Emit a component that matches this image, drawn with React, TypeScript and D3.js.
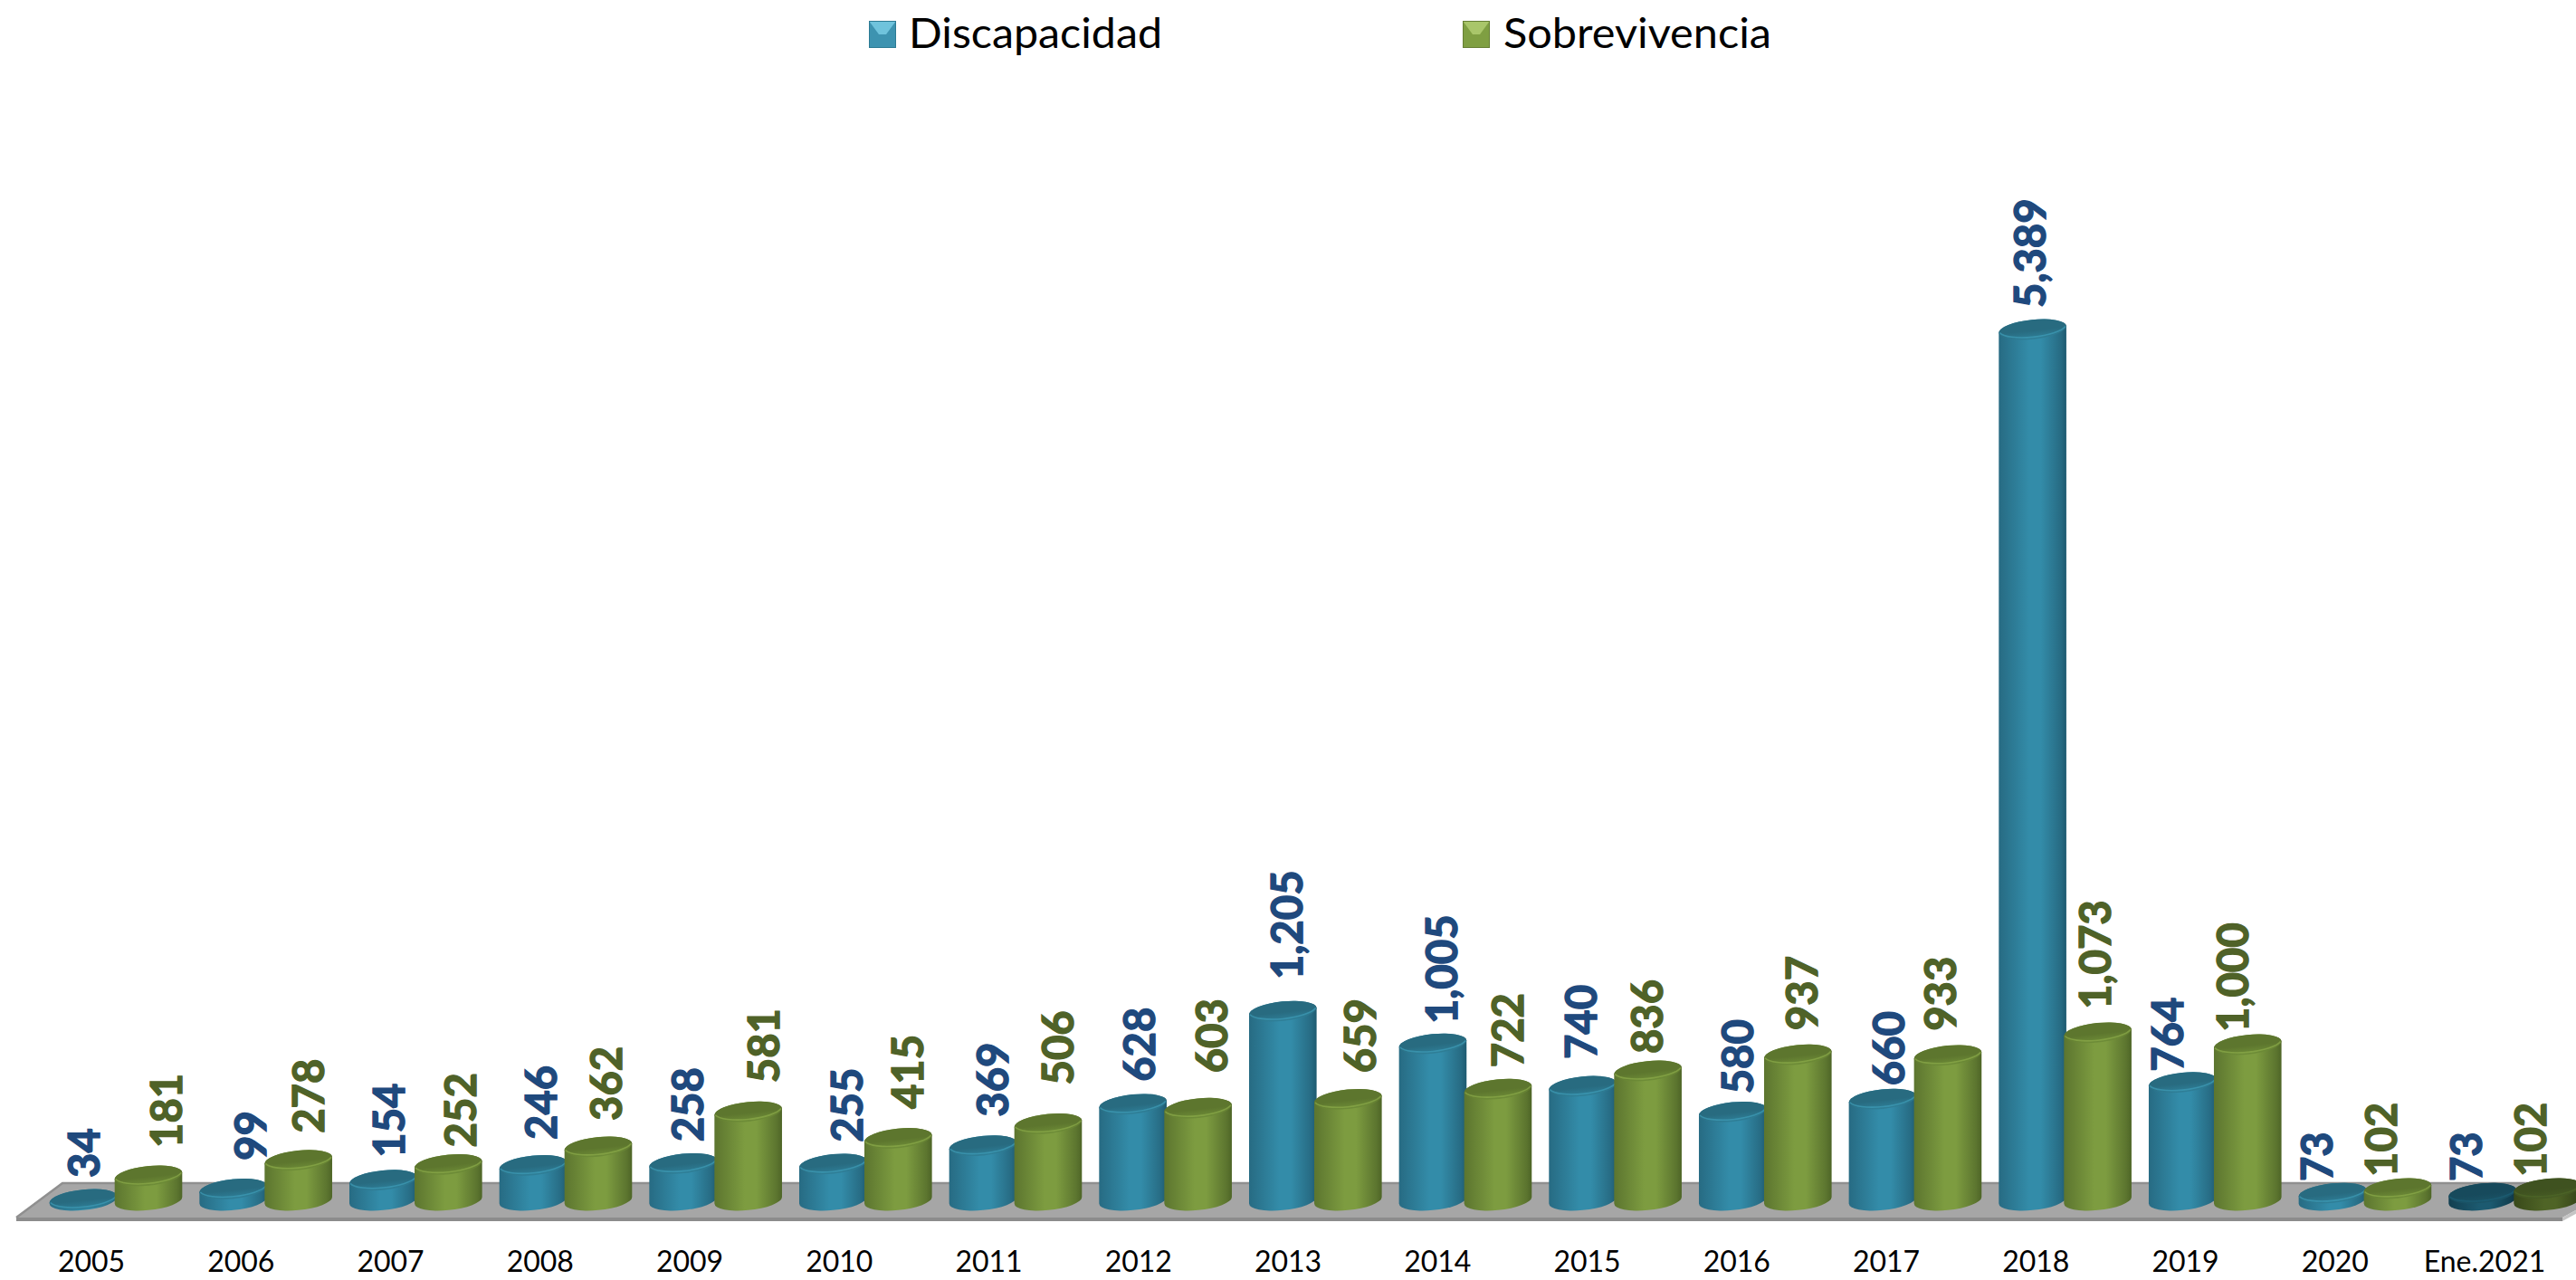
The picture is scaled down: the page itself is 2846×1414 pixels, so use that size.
import React from "react";
import * as d3 from "d3";

const categories = ["2005","2006","2007","2008","2009","2010","2011","2012","2013","2014","2015","2016","2017","2018","2019","2020","Ene.2021"];
const discapacidad = [34,99,154,246,258,255,369,628,1205,1005,740,580,660,5389,764,73,73];
const sobrevivencia = [181,278,252,362,581,415,506,603,659,722,836,937,933,1073,1000,102,102];

// hand placement of the value labels relative to their cylinders
const blueLabelDx = [0,19,6,9,5,15,11,7,4,10,-2,5,7,-3,-17,-17,-18];
const greenLabelDx = [19,11,13,9,17,10,11,15,13,11,-1,4,-8,-3,-17,-18,-19];
const blueLabelGap = [26,33.5,27,30.5,26,26,34,27,37,24,32,22,17,26,14,15,15];
const greenLabelGap = [33,32,21,31,34,34.5,45,41,31,26,21,29,29,28,16,15,15];

const W = 2846, H = 1414;
const FONT = "Lato, 'Open Sans', sans-serif";
const A = 37.5, B = 10.8, TILT = -6;
const BASE = 1326;

const y = d3.scaleLinear().domain([0, 1000, 5389]).range([1331, 1154, 364]);
const xBlue = d3.scaleLinear().domain([0, 16]).range([92, 2742.6]);
const xCat = d3.scalePoint<string>().domain(categories).range([101, 2745]);
const GREEN_SHIFT = 72;

const th = (TILT * Math.PI) / 180;
const t0 = Math.atan(-(B / A) * Math.tan(th));
const EX = A * Math.cos(t0) * Math.cos(th) - B * Math.sin(t0) * Math.sin(th);
const EY = A * Math.cos(t0) * Math.sin(th) + B * Math.sin(t0) * Math.cos(th);

const arc = (x: number, yy: number) => `A${A},${B} ${TILT} 0 0 ${x},${yy}`;

function Cylinder({ cx, top, body, cap, rim }: any) {
  const lx = cx - EX, rx = cx + EX;
  const t = Math.min(top, BASE);
  const d = `M${lx},${t - EY}L${lx},${BASE - EY}${arc(rx, BASE + EY)}L${rx},${t + EY}${arc(lx, t - EY)}Z`;
  const capBottom = `M${lx + 1},${t - EY}${arc(rx - 1, t + EY)}`;
  return (
    <g>
      <path d={d} fill={`url(#${body})`} />
      <ellipse cx={cx} cy={t} rx={A} ry={B} transform={`rotate(${TILT} ${cx} ${t})`} fill={`url(#${cap})`} />
      <path d={capBottom} fill="none" stroke={rim} strokeWidth={1.6} opacity={0.7} />
    </g>
  );
}

function BodyGrad({ id, edge, mid, far }: { id: string; edge: string; mid: string; far: string }) {
  return (
    <linearGradient id={id} x1="0" x2="1" y1="0" y2="0">
      <stop offset="0" stopColor={edge} />
      <stop offset="0.45" stopColor={mid} />
      <stop offset="0.62" stopColor={mid} />
      <stop offset="0.92" stopColor={edge} />
      <stop offset="1" stopColor={far} />
    </linearGradient>
  );
}

function CapGrad({ id, a, b }: { id: string; a: string; b: string }) {
  return (
    <linearGradient id={id} x1="0" x2="0" y1="0" y2="1">
      <stop offset="0" stopColor={a} />
      <stop offset="0.55" stopColor={a} />
      <stop offset="1" stopColor={b} />
    </linearGradient>
  );
}

function Swatch({ x, light, mid, dark }: any) {
  const y0 = 23, s = 30, h = 30;
  return (
    <g>
      <rect x={x} y={y0} width={s} height={h} fill={mid} />
      <polygon points={`${x},${y0} ${x + s},${y0} ${x + s - 11},${y0 + 15} ${x + 11},${y0 + 15}`} fill={light} />
      <rect x={x + 0.5} y={y0 + 0.5} width={s - 1} height={h - 1} fill="none" stroke={dark} />
    </g>
  );
}

export default function App() {
  const labelFmt = d3.format(",");
  const isDark = (i: number) => i === categories.length - 1;
  const lab = (cx: number, v: number, gap: number, fill: string) => (
    <text
      transform={`translate(${cx + 17.5},${y(v) - gap + 2}) rotate(-90) scale(1.05,1.08)`}
      fontFamily={FONT}
      fontWeight={700}
      fontSize={45}
      fill={fill}
      stroke={fill}
      strokeWidth={1.3}
    >
      {labelFmt(v)}
    </text>
  );
  return (
    <svg width={W} height={H} viewBox={`0 0 ${W} ${H}`} style={{ position: "absolute", left: 0, top: 0, background: "#fff" }}>
      <defs>
        <BodyGrad id="bBody" edge="#276b83" mid="#338ca9" far="#1e5a70" />
        <BodyGrad id="gBody" edge="#5c752f" mid="#7d9c40" far="#4e6527" />
        <BodyGrad id="bBodyD" edge="#123f50" mid="#1c5a70" far="#0f3443" />
        <BodyGrad id="gBodyD" edge="#39491a" mid="#4f6426" far="#303e16" />
        <CapGrad id="bCap" a="#286b80" b="#2f8099" />
        <CapGrad id="gCap" a="#5d762e" b="#6f8e38" />
        <CapGrad id="bCapD" a="#174a5c" b="#1b5568" />
        <CapGrad id="gCapD" a="#3f5220" b="#475c24" />
      </defs>

      <polygon points="18,1345 69,1307 2900,1307 2831,1345" fill="#a6a6a6" />
      <polyline points="18,1345 69,1307 2900,1307" fill="none" stroke="#8f8f8f" strokeWidth={2.5} />
      <polygon points="18,1345 2831,1345 2831,1349 18,1349" fill="#8c8c8c" />
      <polygon points="2831,1345 2900,1307 2900,1311 2831,1349" fill="#c4c4c4" />

      {categories.map((c, i) => {
        const bx = xBlue(i);
        const dark = isDark(i);
        return (
          <g key={c}>
            <Cylinder cx={bx} top={y(discapacidad[i])} body={dark ? "bBodyD" : "bBody"} cap={dark ? "bCapD" : "bCap"} rim={dark ? "#1d6076" : "#3f9db8"} />
            <Cylinder cx={bx + GREEN_SHIFT} top={y(sobrevivencia[i])} body={dark ? "gBodyD" : "gBody"} cap={dark ? "gCapD" : "gCap"} rim={dark ? "#4f6628" : "#8bab4a"} />
          </g>
        );
      })}

      {categories.map((c, i) => (
        <g key={c}>
          {lab(xBlue(i) + blueLabelDx[i], discapacidad[i], blueLabelGap[i], "#1f497d")}
          {lab(xBlue(i) + GREEN_SHIFT + greenLabelDx[i], sobrevivencia[i], greenLabelGap[i], "#4f6228")}
        </g>
      ))}

      {categories.map((c) => (
        <text key={c} x={xCat(c)} y={1405} textAnchor="middle" fontFamily={FONT} fontSize={32} fill="#000">
          {c}
        </text>
      ))}

      <Swatch x={960} light="#6fc3dc" mid="#3d93b0" dark="#2c7a93" />
      <text x={1004} y={53} fontFamily={FONT} fontSize={46} fill="#000" textLength={280} lengthAdjust="spacingAndGlyphs">Discapacidad</text>
      <Swatch x={1616} light="#a9c66a" mid="#7f9f42" dark="#667f34" />
      <text x={1661} y={53} fontFamily={FONT} fontSize={46} fill="#000" textLength={296} lengthAdjust="spacingAndGlyphs">Sobrevivencia</text>
    </svg>
  );
}
